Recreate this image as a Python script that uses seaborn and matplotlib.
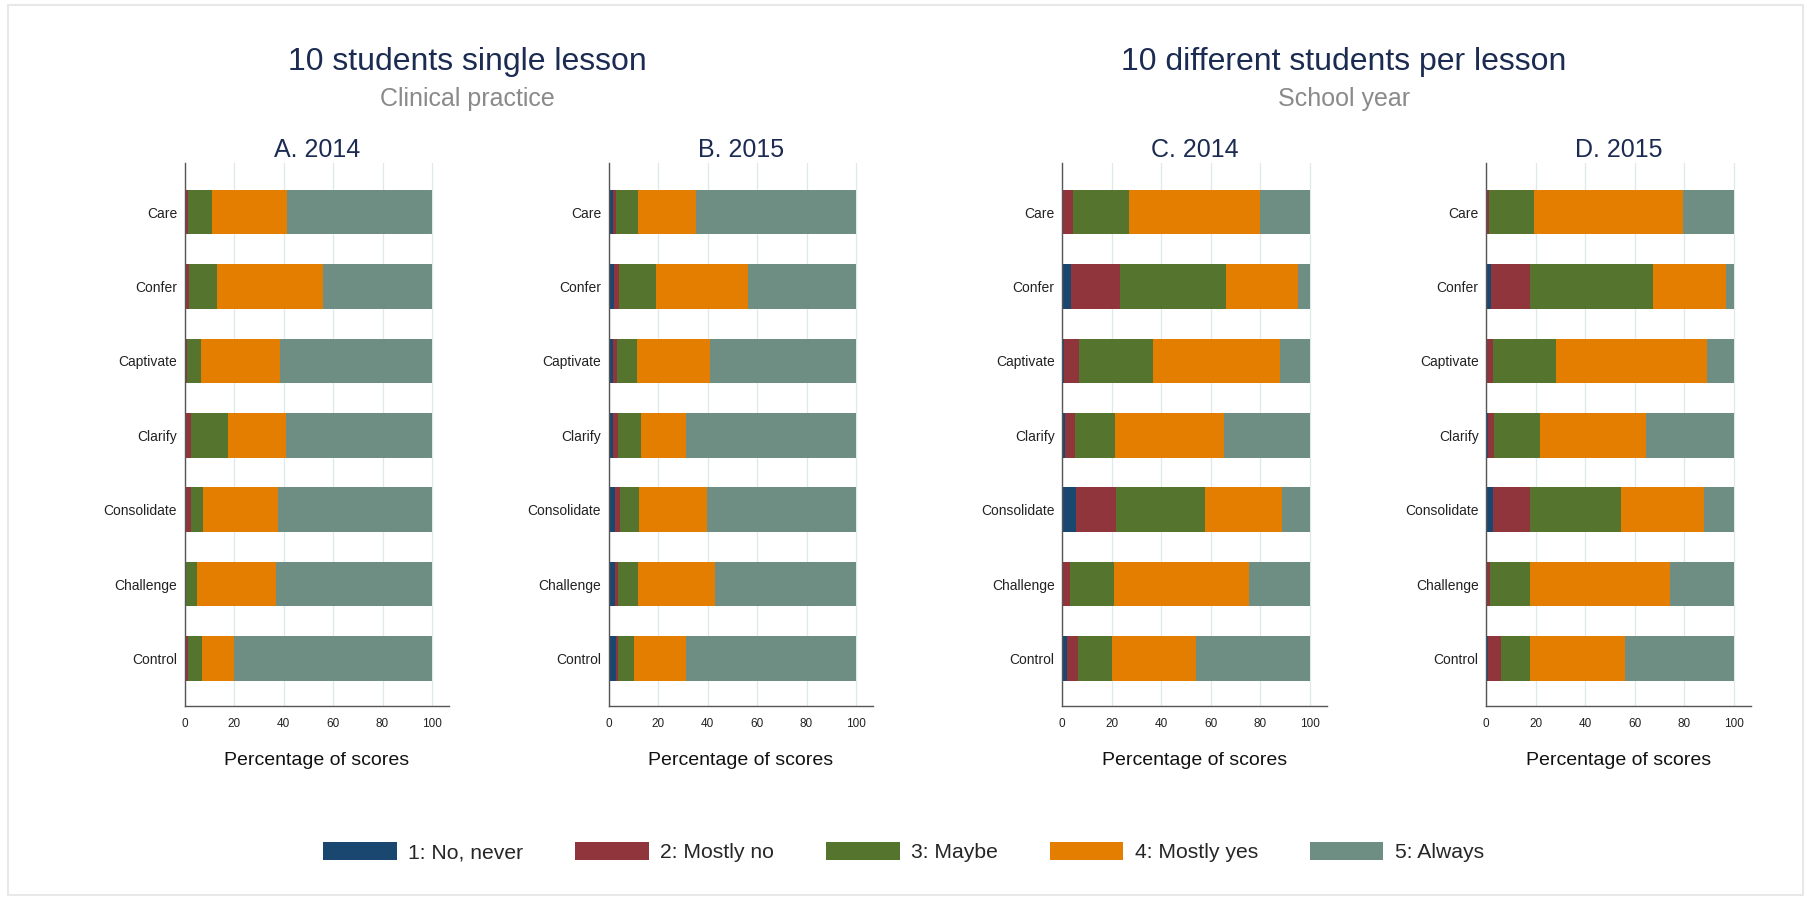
import matplotlib
matplotlib.use('Agg')
import matplotlib.pyplot as plt
from matplotlib.patches import Patch, Rectangle
import numpy as np
import pandas as pd
import seaborn as sns

items = ['Care', 'Confer', 'Captivate', 'Clarify', 'Consolidate', 'Challenge', 'Control']
levels = ['1: No, never', '2: Mostly no', '3: Maybe', '4: Mostly yes', '5: Always']
colors = ['#1a476f', '#90353b', '#55752f', '#e37e00', '#6e8e84']
xticks = [0, 20, 40, 60, 80, 100]

# A. 2014 - 10 students single lesson
a_never = [0.2, 0.3, 0.5, 0.3, 0.2, 0.5, 0.2]
a_mostly_no = [1.1, 1.5, 0.3, 2.3, 2.4, 0.0, 1.2]
a_maybe = [9.7, 11.3, 5.7, 14.8, 4.8, 4.4, 5.6]
a_mostly_yes = [30.4, 43.0, 32.2, 23.4, 30.3, 32.0, 12.9]
a_always = [58.6, 43.9, 61.3, 59.2, 62.3, 63.1, 80.1]

# B. 2015
b_never = [1.75, 2.2, 1.6, 1.9, 2.6, 2.7, 2.8]
b_mostly_no = [1.25, 2.0, 1.6, 1.9, 2.1, 0.9, 1.0]
b_maybe = [9.0, 15.1, 8.4, 9.2, 7.6, 8.4, 6.5]
b_mostly_yes = [23.5, 37.2, 29.4, 18.2, 27.6, 31.0, 20.9]
b_always = [64.5, 43.5, 59.0, 68.8, 60.1, 57.0, 68.8]

# C. 2014 - 10 different students per lesson
c_never = [0.2, 3.6, 0.5, 1.2, 5.7, 0.2, 1.9]
c_mostly_no = [4.1, 19.7, 6.1, 4.1, 16.0, 2.9, 4.3]
c_maybe = [22.7, 42.7, 30.2, 16.2, 35.9, 17.7, 13.9]
c_mostly_yes = [53.0, 29.5, 51.2, 43.8, 31.3, 54.9, 34.0]
c_always = [20.0, 4.5, 12.0, 34.7, 11.1, 24.3, 45.9]

# D. 2015
d_never = [0.1, 2.0, 0.3, 0.5, 2.8, 0.2, 0.8]
d_mostly_no = [1.0, 15.7, 2.4, 2.7, 14.9, 1.3, 5.1]
d_maybe = [18.2, 49.9, 25.4, 18.7, 36.8, 16.2, 11.8]
d_mostly_yes = [60.1, 29.2, 61.1, 42.5, 33.4, 56.7, 38.4]
d_always = [20.6, 3.2, 10.8, 35.6, 12.1, 25.6, 43.9]

panels = [
    ('A. 2014', [a_never, a_mostly_no, a_maybe, a_mostly_yes, a_always]),
    ('B. 2015', [b_never, b_mostly_no, b_maybe, b_mostly_yes, b_always]),
    ('C. 2014', [c_never, c_mostly_no, c_maybe, c_mostly_yes, c_always]),
    ('D. 2015', [d_never, d_mostly_no, d_maybe, d_mostly_yes, d_always]),
]

sns.set_style('white')
plt.rcParams['font.family'] = ['Liberation Sans', 'DejaVu Sans']

navy = '#1c2b52'
spine = '#555555'
W, H = 1807, 900
fig = plt.figure(figsize=(W / 100, H / 100), dpi=100)

lefts = [184.7, 608.7, 1062.3, 1486.3]
ax_w, ax_top, ax_bot = 264.6, 163, 706

for (title, series), left in zip(panels, lefts):
    ax = fig.add_axes([left / W, 1 - ax_bot / H, ax_w / W, (ax_bot - ax_top) / H])
    df = pd.DataFrame(np.array(series).T, columns=levels)
    cum = df.cumsum(axis=1)
    # stacked look: draw cumulative totals from the back to the front
    for k in range(4, -1, -1):
        tmp = pd.DataFrame({'item': items, 'value': cum[levels[k]]})
        sns.barplot(data=tmp, x='value', y='item', order=items, orient='h',
                    color=colors[k], saturation=1, width=0.6, errorbar=None,
                    linewidth=0, ax=ax)
    ax.set_xlim(0, 107)
    ax.set_ylim(6.64, -0.66)
    ax.set_xticks(xticks)
    ax.grid(axis='x', color='#dde9ed', lw=0.9)
    ax.set_axisbelow(True)
    for s in ['top', 'right']:
        ax.spines[s].set_visible(False)
    for s in ['left', 'bottom']:
        ax.spines[s].set_color(spine)
        ax.spines[s].set_linewidth(1.0)
    ax.tick_params(axis='x', length=4.5, width=0.9, color=spine, pad=4,
                   labelsize=8.5, labelcolor='#222222')
    ax.tick_params(axis='y', length=0, pad=5.5, labelsize=10, labelcolor='#222222')
    ax.set_ylabel('')
    ax.set_xlabel('Percentage of scores', fontsize=14, labelpad=16, color='#111111')
    ax.set_title(title, fontsize=18, color=navy, pad=4)

fig.text(467 / W, 1 - 70 / H, '10 students single lesson', ha='center',
         va='baseline', fontsize=23, color=navy)
fig.text(467 / W, 1 - 106 / H, 'Clinical practice', ha='center',
         va='baseline', fontsize=18, color='#8a8a8a')
fig.text(1344 / W, 1 - 70 / H, '10 different students per lesson', ha='center',
         va='baseline', fontsize=23, color=navy)
fig.text(1344 / W, 1 - 106 / H, 'School year', ha='center',
         va='baseline', fontsize=18, color='#8a8a8a')

handles = [Patch(facecolor=c, edgecolor='none', label=l) for c, l in zip(colors, levels)]
fig.legend(handles=handles, loc='center', bbox_to_anchor=(0.5, 1 - 852 / H),
           ncol=5, frameon=False, fontsize=15.2, handlelength=3.5, handleheight=0.9,
           handletextpad=0.53, columnspacing=2.45)

fig.patches.append(Rectangle((8 / W, 5 / H), (1803 - 8) / W, (895 - 5) / H,
                             transform=fig.transFigure, fill=False,
                             edgecolor='#e8e8e8', lw=1.5))

fig.savefig('out.png', dpi=100)
